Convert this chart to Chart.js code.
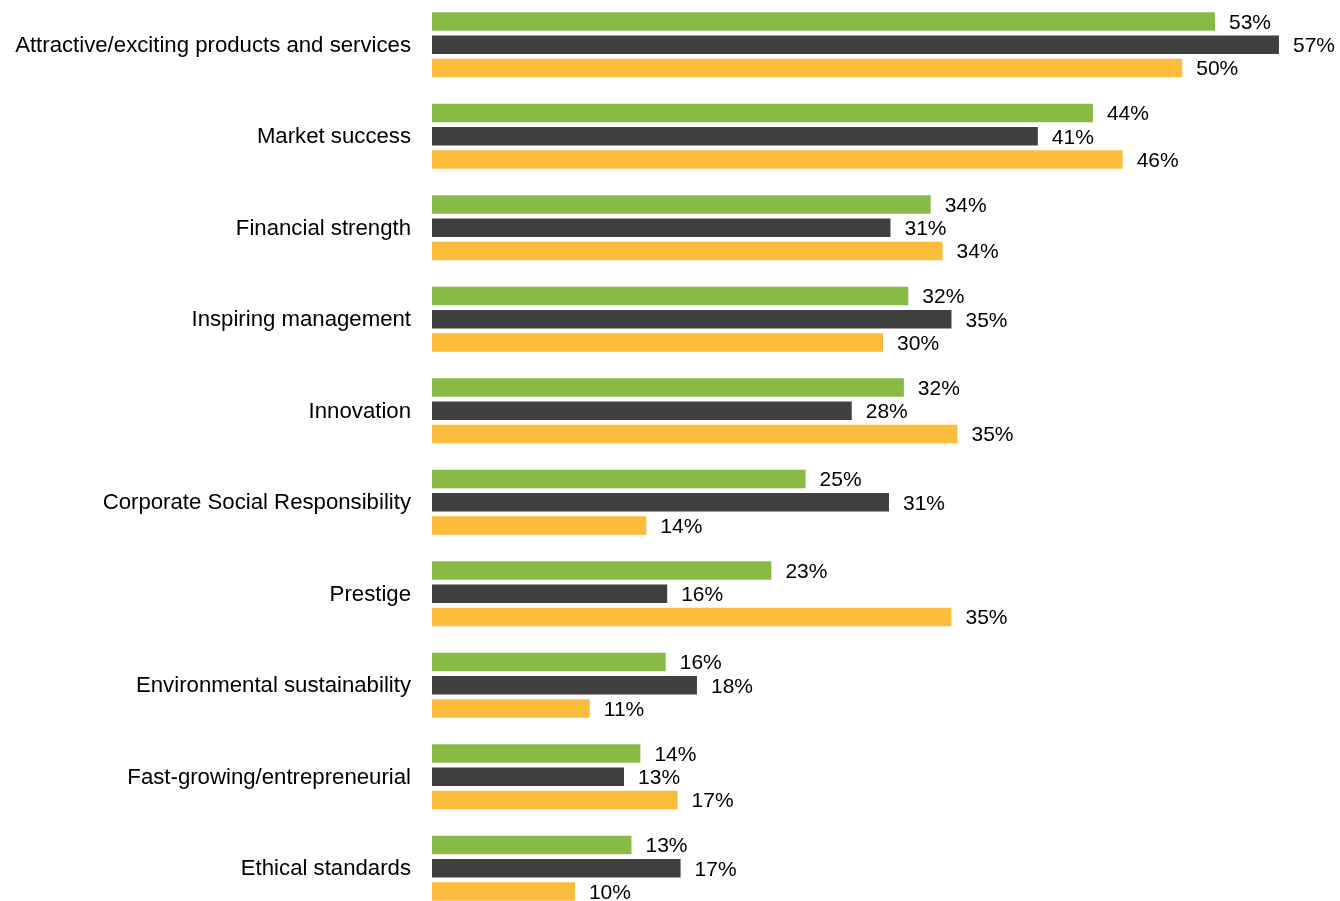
<!DOCTYPE html>
<html>
<head>
<meta charset="utf-8">
<script src="https://cdn.jsdelivr.net/npm/chart.js@4"></script>
<style>
  html, body { margin: 0; padding: 0; background: #fff; overflow: hidden; }
  #wrap { position: absolute; left: 0; top: -1px; width: 1340px; height: 915px; }
</style>
</head>
<body>
<div id="wrap"><canvas id="grafico"></canvas></div>
<script>
const categorias = [
    "Attractive/exciting products and services",
    "Market success",
    "Financial strength",
    "Inspiring management",
    "Innovation",
    "Corporate Social Responsibility",
    "Prestige",
    "Environmental sustainability",
    "Fast-growing/entrepreneurial",
    "Ethical standards"
]

// values, labels show them rounded
const serieVerde = [52.6, 44.4, 33.5, 32.0, 31.7, 25.1, 22.8, 15.7, 14.0, 13.4]
const serieCinza = [56.9, 40.7, 30.8, 34.9, 28.2, 30.7, 15.8, 17.8, 12.9, 16.7]
const serieAmarela = [50.4, 46.4, 34.3, 30.3, 35.3, 14.4, 34.9, 10.6, 16.5, 9.6]

const fonte = "'Liberation Sans', Arial, sans-serif"

const rotulos = {
    id: 'rotulos',
    afterDatasetsDraw(chart) {
        const ctx = chart.ctx
        ctx.save()
        ctx.font = "21px " + fonte
        ctx.fillStyle = "#000"
        ctx.textAlign = "left"
        ctx.textBaseline = "middle"
        chart.data.datasets.forEach((ds, i) => {
            chart.getDatasetMeta(i).data.forEach((bar, j) => {
                ctx.fillText(Math.round(ds.data[j]) + "%", bar.x + 14, bar.y + 1.5)
            })
        })
        ctx.restore()
    }
}

let grafico = new Chart(document.getElementById("grafico"), {
    type: 'bar',
    data: {
        labels: categorias,
        datasets: [
            { data: serieVerde, backgroundColor: '#88bb46' },
            { data: serieCinza, backgroundColor: '#404040' },
            { data: serieAmarela, backgroundColor: '#fdbd3c' }
        ]
    },
    options: {
        indexAxis: 'y',
        responsive: true,
        maintainAspectRatio: false,
        animation: false,
        categoryPercentage: 0.76,
        barPercentage: 0.8,
        layout: { padding: 0 },
        plugins: {
            legend: { display: false },
            tooltip: { enabled: false }
        },
        scales: {
            x: {
                display: false,
                min: 0,
                max: 61
            },
            y: {
                grid: { display: false, drawTicks: false },
                border: { display: false },
                ticks: {
                    padding: 21,
                    labelOffset: 1,
                    color: '#000',
                    font: { family: fonte, size: 22.2 }
                },
                afterFit(scale) {
                    scale.width = 432
                    scale.paddingTop = 0
                    scale.paddingBottom = 0
                }
            }
        }
    },
    plugins: [rotulos]
});
</script>
</body>
</html>
